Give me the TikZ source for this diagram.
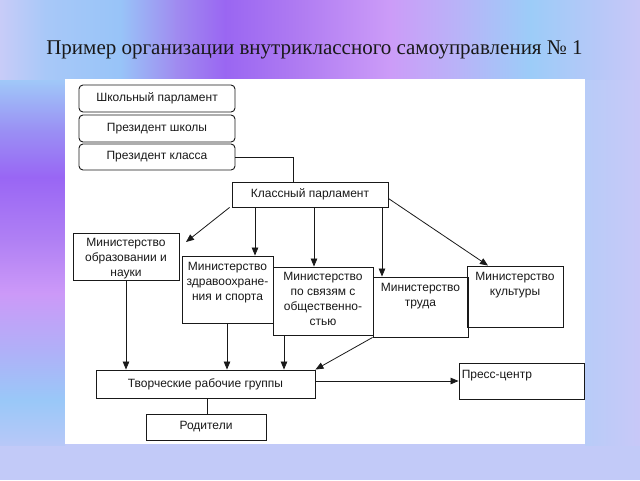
\documentclass[tikz,border=0pt]{standalone}
\usepackage{fontspec}
\setmainfont{Liberation Serif}
\setsansfont{Liberation Sans}
\usetikzlibrary{arrows.meta}
\definecolor{bgbase}{RGB}{194,202,248}
\definecolor{t0}{RGB}{200,204,248}
\definecolor{t1}{RGB}{168,200,248}
\definecolor{t2}{RGB}{152,196,248}
\definecolor{t3}{RGB}{160,140,240}
\definecolor{t4}{RGB}{154,102,242}
\definecolor{t5}{RGB}{176,124,242}
\definecolor{t6}{RGB}{204,156,248}
\definecolor{t7}{RGB}{184,180,248}
\definecolor{t8}{RGB}{156,204,248}
\definecolor{t9}{RGB}{184,200,248}
\definecolor{t10}{RGB}{200,200,248}
\definecolor{l0}{RGB}{160,200,248}
\definecolor{l1}{RGB}{154,144,244}
\definecolor{l2}{RGB}{153,102,244}
\definecolor{l3}{RGB}{176,128,244}
\definecolor{l4}{RGB}{204,153,248}
\definecolor{l5}{RGB}{176,176,248}
\definecolor{l6}{RGB}{153,200,248}
\definecolor{l7}{RGB}{184,200,248}
\definecolor{r0}{RGB}{184,204,248}
\definecolor{r1}{RGB}{200,200,248}
\definecolor{ink}{RGB}{25,25,25}
\begin{document}
\begin{tikzpicture}[x=1pt,y=-1pt,
  boxtext/.style={font=\sffamily\fontsize{12}{15}\selectfont},
  box/.style={draw=ink, line width=0.9pt, inner sep=0pt, boxtext, align=center, text=ink},
  rbox/.style={box, rounded corners=4pt},
  txt/.style={boxtext, align=center, inner sep=0pt, text=ink},
  arr/.style={draw=ink, line width=0.8pt, -{Triangle[length=8pt,width=6.5pt]}},
  ln/.style={draw=ink, line width=0.8pt}]
\useasboundingbox (0,0) rectangle (640,480);
% background
\fill[bgbase] (0,0) rectangle (640,480);
\foreach \xa/\xb/\ca/\cb in {0/45/t0/t1,45/120/t1/t2,120/175/t2/t3,175/225/t3/t4,225/300/t4/t5,300/390/t5/t6,390/460/t6/t7,460/530/t7/t8,530/600/t8/t9,600/640/t9/t10}
  \shade[left color=\ca, right color=\cb] (\xa,0) rectangle (\xb+0.6,80);
\foreach \ya/\yb/\ca/\cb in {80/130/l0/l1,130/177/l1/l2,177/240/l2/l3,240/293/l3/l4,293/350/l4/l5,350/400/l5/l6,400/445/l6/l7}
  \shade[top color=\ca, bottom color=\cb] (0,\ya) rectangle (65,\yb+0.6);
\shade[left color=r0, right color=r1] (585,80) rectangle (640,445);
% title
\node[font=\fontsize{21}{25}\selectfont, text=black!90, inner sep=0pt] (title) at (314.5,50) {Пример организации внутриклассного самоуправления №~1};
% panel
\fill[white] (65,79) rectangle (585,444);
% boxes
\node[rbox, minimum width=156pt, minimum height=27pt] (school) at (157,98.5) {Школьный парламент};
\node[rbox, minimum width=156pt, minimum height=27pt] (prschool) at (157,128.5) {Президент школы};
\node[rbox, minimum width=156pt, minimum height=26pt] (prclass) at (157,157) {Президент класса};
\node[box, minimum width=156pt, minimum height=25pt] (klass) at (310,194.5) {Классный парламент};
\node[box, minimum width=106pt, minimum height=47pt] (edu) at (126,256.5) {};
\node[txt, anchor=north] (edut) at ([yshift=-5pt]edu.north) {Министерство\\образовании и\\науки};
\node[box, minimum width=91pt, minimum height=67pt] (zdrav) at (227.5,289.5) {};
\node[txt, anchor=north] (zdravt) at ([yshift=-6pt]zdrav.north) {Министерство\\здравоохране-\\ния и спорта};
\node[box, minimum width=100pt, minimum height=68pt] (svyaz) at (323,301) {};
\node[txt, anchor=north] (svyazt) at ([yshift=-5pt]svyaz.north) {Министерство\\по связям с\\общественно-\\стью};
\node[box, minimum width=95pt, minimum height=60pt] (trud) at (420.5,307) {};
\node[txt, anchor=north] (trudt) at ([yshift=-6pt]trud.north) {Министерство\\труда};
\node[box, minimum width=96pt, minimum height=61pt] (kult) at (515,296.5) {};
\node[txt, anchor=north] (kultt) at ([yshift=-6pt]kult.north) {Министерство\\культуры};
\node[box, minimum width=219pt, minimum height=28pt] (tvor) at (205.5,384) {Творческие рабочие группы};
\node[box, minimum width=125pt, minimum height=36pt] (press) at (521.5,381) {};
\node[txt, anchor=north west] (presst) at ([xshift=3pt,yshift=-7pt]press.north west) {Пресс-центр};
\node[box, minimum width=120pt, minimum height=26pt] (rod) at (206,427) {Родители};
% helper coordinates
\coordinate (k1) at (293,0);
\coordinate (eduin) at (186,242);
\coordinate (xz) at (255,0);
\coordinate (xs) at (314,0);
\coordinate (xt) at (382,0);
\coordinate (xk) at (488,0);
\coordinate (xe) at (126,0);
\coordinate (xz2) at (227,0);
\coordinate (xs2) at (284,0);
\coordinate (yp) at (0,381);
\coordinate (xr) at (207,0);
% connectors
\draw[ln] (prclass.east) -| (klass.north -| k1);
\draw[arr] ([xshift=-2pt]klass.south west) -- (eduin);
\draw[arr] (klass.south -| xz) -- (zdrav.north -| xz);
\draw[arr] (klass.south -| xs) -- (svyaz.north -| xs);
\draw[arr] (klass.south -| xt) -- (trud.north -| xt);
\draw[arr] ([yshift=-4pt]klass.east) -- (kult.north -| xk);
\draw[arr] (edu.south -| xe) -- (tvor.north -| xe);
\draw[arr] (zdrav.south -| xz2) -- (tvor.north -| xz2);
\draw[arr] (svyaz.south -| xs2) -- (tvor.north -| xs2);
\draw[arr] (trud.south west) -- (tvor.north east);
\draw[arr] (tvor.east |- yp) -- (press.west |- yp);
\draw[ln] (tvor.south -| xr) -- (rod.north -| xr);
\end{tikzpicture}
\end{document}
